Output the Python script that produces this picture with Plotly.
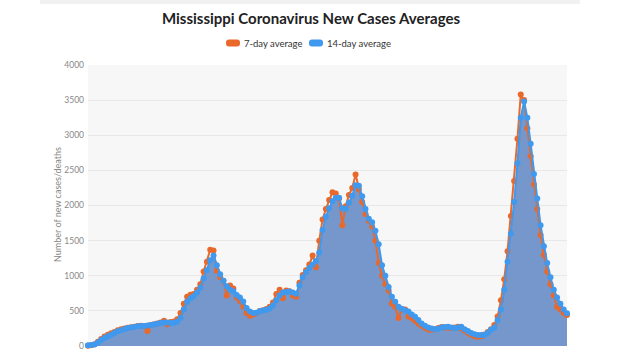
import plotly.graph_objects as go
import pandas as pd

# x categories: every 4 days starting 2020-03-11
dates = pd.date_range("2020-03-11", periods=146, freq="4D")

avg7 = [5, 10, 25, 60, 100, 135, 160, 180, 200, 225,
        240, 250, 260, 268, 275, 283, 290, 280, 215, 300,
        310, 322, 335, 360, 310, 340, 350, 380, 470, 600,
        700, 730, 740, 800, 880, 1060, 1200, 1370, 1360, 1070,
        980, 930, 720, 860, 820, 690, 640, 560, 470, 430,
        450, 470, 500, 510, 525, 560, 620, 740, 800, 680,
        790, 780, 720, 700, 900, 1010, 1080, 1160, 1290, 1120,
        1500, 1800, 1950, 2080, 2190, 2170, 2100, 1720, 1990, 2150,
        2250, 2440, 2230, 2050, 1880, 1780, 1700, 1500, 1180, 1000,
        880, 790, 600, 560, 400, 520, 520, 420, 400, 360,
        320, 290, 260, 235, 230, 240, 255, 270, 265, 260,
        255, 265, 275, 250, 220, 190, 160, 140, 133, 140,
        165, 200, 240, 300, 420, 650, 950, 1350, 1850, 2350,
        2950, 3580, 3500, 3100, 2700, 2300, 1950, 1580, 1300, 1060,
        880, 720, 560, 520, 470, 440]

avg14 = [10, 15, 20, 50, 85, 115, 140, 160, 185, 210,
         225, 240, 255, 263, 272, 280, 283, 286, 292, 298,
         305, 316, 326, 336, 334, 328, 332, 345, 400, 520,
         630, 680, 710, 760, 830, 960, 1080, 1220, 1290, 1150,
         1020, 930, 850, 800, 780, 725, 690, 632, 540, 490,
         468, 475, 495, 505, 515, 535, 580, 650, 720, 760,
         770, 775, 760, 745, 860, 980, 1050, 1110, 1160, 1210,
         1330, 1650, 1840, 1960, 2060, 2110, 2110, 1960, 1950, 2040,
         2140, 2290, 2280, 2130, 1950, 1810, 1760, 1640, 1450, 1150,
         1000, 840, 700, 630, 560, 530, 505, 490, 450, 417,
         370, 320, 290, 262, 248, 237, 245, 262, 270, 275,
         262, 251, 265, 275, 240, 213, 185, 166, 158, 156,
         158, 190, 230, 260, 370, 520, 800, 1200, 1600, 2050,
         2600, 3250, 3480, 3250, 2880, 2450, 2100, 1720, 1420, 1180,
         980, 800, 690, 600, 520, 465]

y_ticks = [0, 500, 1000, 1500, 2000, 2500, 3000, 3500, 4000]
series_names = ["7-day average", "14-day average"]

ORANGE = "#e8692b"
BLUE = "#3f99ee"
FILL = "rgb(117,151,204)"

W, H = 622, 352
L, R, T, B = 88, 55, 65, 6
PW, PH = W - L - R, H - T - B


def px_x(px):
    return (px - L) / PW


def px_y(py):
    return (H - B - py) / PH


fig = go.Figure()

# area fill
fig.add_trace(go.Scatter(x=dates, y=avg14, mode="lines", line=dict(width=0, color=FILL),
                         fill="tozeroy", fillcolor=FILL, showlegend=False, hoverinfo="skip"))
fig.add_trace(go.Scatter(x=dates, y=avg7, mode="lines+markers", name=series_names[0],
                         line=dict(color=ORANGE, width=2), marker=dict(color=ORANGE, size=6),
                         showlegend=False, cliponaxis=False))
fig.add_trace(go.Scatter(x=dates, y=avg14, mode="lines+markers", name=series_names[1],
                         line=dict(color=BLUE, width=2), marker=dict(color=BLUE, size=6),
                         showlegend=False, cliponaxis=False))


def rounded_rect(x0, y0, x1, y1, r):
    X = px_x
    Y = px_y
    return (f"M {X(x0 + r)} {Y(y0)} L {X(x1 - r)} {Y(y0)} Q {X(x1)} {Y(y0)} {X(x1)} {Y(y0 + r)} "
            f"L {X(x1)} {Y(y1 - r)} Q {X(x1)} {Y(y1)} {X(x1 - r)} {Y(y1)} "
            f"L {X(x0 + r)} {Y(y1)} Q {X(x0)} {Y(y1)} {X(x0)} {Y(y1 - r)} "
            f"L {X(x0)} {Y(y0 + r)} Q {X(x0)} {Y(y0)} {X(x0 + r)} {Y(y0)} Z")


shapes = [
    dict(type="rect", xref="paper", yref="paper",
         x0=px_x(40), x1=px_x(580), y0=px_y(4), y1=px_y(-2),
         fillcolor="#f1f1f1", line=dict(width=0), layer="below"),
    dict(type="path", xref="paper", yref="paper", path=rounded_rect(226, 39.5, 240, 46.5, 3),
         fillcolor=ORANGE, line=dict(width=0)),
    dict(type="path", xref="paper", yref="paper", path=rounded_rect(309, 39.5, 323, 46.5, 3),
         fillcolor=BLUE, line=dict(width=0)),
]

annotations = [
    dict(text=series_names[0], xref="paper", yref="paper", x=px_x(242), y=px_y(43),
         xanchor="left", yanchor="middle", showarrow=False,
         font=dict(size=9.5, color="#333")),
    dict(text=series_names[1], xref="paper", yref="paper", x=px_x(325), y=px_y(43),
         xanchor="left", yanchor="middle", showarrow=False,
         font=dict(size=9.5, color="#333")),
    dict(text="Number of new cases/deaths", xref="paper", yref="paper",
         x=px_x(57), y=px_y(205), xanchor="center", yanchor="middle",
         textangle=-90, showarrow=False, font=dict(size=9, color="#888")),
]

fig.update_layout(
    width=W, height=H,
    margin=dict(l=L, r=R, t=T, b=B, autoexpand=False),
    paper_bgcolor="white",
    plot_bgcolor="#f7f7f7",
    font=dict(family="Lato, sans-serif", color="#333"),
    title=dict(text="<b>Mississippi Coronavirus New Cases Averages</b>",
               x=0.5, xref="container", xanchor="center",
               y=1 - 19 / H, yref="container", yanchor="middle",
               font=dict(size=15, color="#222")),
    showlegend=False,
    xaxis=dict(type="date", range=[dates[0], dates[-1]], showticklabels=False,
               showgrid=False, zeroline=False, showline=False, ticks=""),
    yaxis=dict(range=[0, 4000], tickvals=y_ticks, showgrid=True, gridcolor="#e8e8e8",
               gridwidth=1, zeroline=False, tickfont=dict(size=8.5, color="#888"),
               ticks="", ticklabelstandoff=3),
    shapes=shapes,
    annotations=annotations,
)

fig.write_html("out.html")
